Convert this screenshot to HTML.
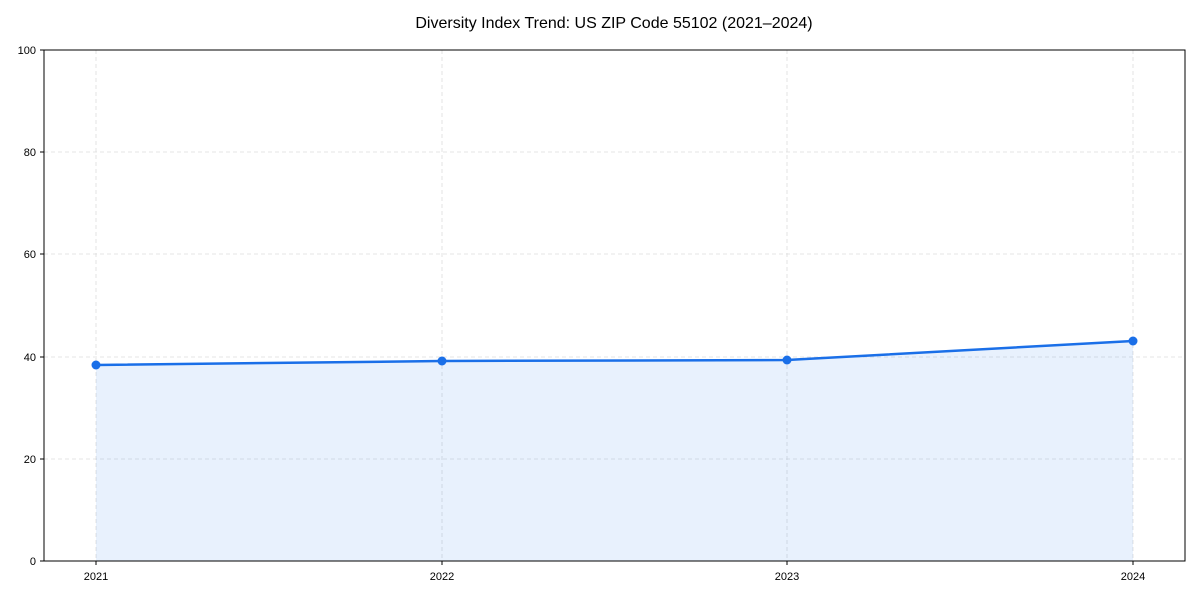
<!DOCTYPE html>
<html><head><meta charset="utf-8"><style>
html,body{margin:0;padding:0;background:#fff;width:1200px;height:600px;overflow:hidden}
text{font-family:"Liberation Sans",Arial,sans-serif;fill:#000}
</style></head><body>
<svg width="1200" height="600" viewBox="0 0 1200 600" xmlns="http://www.w3.org/2000/svg">
<rect width="1200" height="600" fill="#fff"/>
<text x="614" y="28" font-size="16" text-anchor="middle">Diversity Index Trend: US ZIP Code 55102 (2021–2024)</text>
<g stroke="#dddddd" stroke-width="0.8" stroke-dasharray="4,3">
<line x1="44" x2="1185" y1="459" y2="459"/>
<line x1="44" x2="1185" y1="357" y2="357"/>
<line x1="44" x2="1185" y1="254" y2="254"/>
<line x1="44" x2="1185" y1="152" y2="152"/>
<line x1="96" x2="96" y1="50" y2="561"/>
<line x1="442" x2="442" y1="50" y2="561"/>
<line x1="787" x2="787" y1="50" y2="561"/>
<line x1="1133" x2="1133" y1="50" y2="561"/>
</g>
<polygon points="96,365 442,361 787,360 1133,341 1133,561 96,561" fill="#1a73e8" fill-opacity="0.1"/>
<polyline points="96,365 442,361 787,360 1133,341" fill="none" stroke="#1a6fe8" stroke-width="2.5"/>
<g fill="#1a6fe8">
<circle cx="96" cy="365" r="4.5"/><circle cx="442" cy="361" r="4.5"/>
<circle cx="787" cy="360" r="4.5"/><circle cx="1133" cy="341" r="4.5"/>
</g>
<rect x="44" y="50" width="1141" height="511" fill="none" stroke="#000" stroke-width="1"/>
<g stroke="#000" stroke-width="1">
<line x1="40" x2="44" y1="561" y2="561"/><line x1="40" x2="44" y1="459" y2="459"/>
<line x1="40" x2="44" y1="357" y2="357"/><line x1="40" x2="44" y1="254" y2="254"/>
<line x1="40" x2="44" y1="152" y2="152"/><line x1="40" x2="44" y1="50" y2="50"/>
<line x1="96" x2="96" y1="561" y2="565"/><line x1="442" x2="442" y1="561" y2="565"/>
<line x1="787" x2="787" y1="561" y2="565"/><line x1="1133" x2="1133" y1="561" y2="565"/>
</g>
<g font-size="11" text-anchor="end">
<text x="36" y="565">0</text><text x="36" y="463">20</text><text x="36" y="361">40</text>
<text x="36" y="258">60</text><text x="36" y="156">80</text><text x="36" y="54">100</text>
</g>
<g font-size="11" text-anchor="middle">
<text x="96" y="580">2021</text><text x="442" y="580">2022</text>
<text x="787" y="580">2023</text><text x="1133" y="580">2024</text>
</g>
</svg>
</body></html>
